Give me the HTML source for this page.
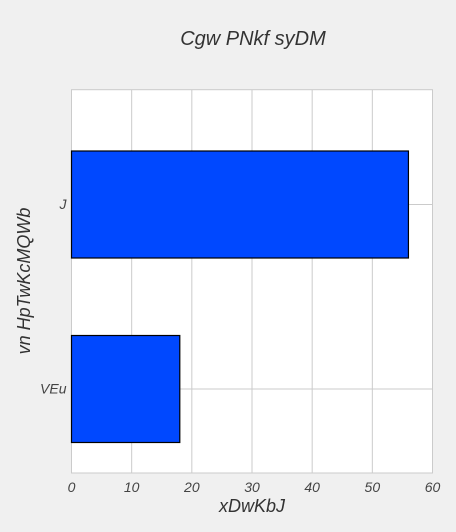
<!DOCTYPE html>
<html><head><meta charset="utf-8"><style>
body{margin:0;background:#f0f0f0;}
svg{display:block;font-family:"Liberation Sans",sans-serif;font-style:italic;}
</style></head><body>
<svg id="c" width="456" height="532">
<rect x="0" y="0" width="456" height="532" fill="#f0f0f0"/>
<text x="253" y="45" font-size="20" fill="#333" text-anchor="middle">Cgw PNkf syDM</text>
<text x="252" y="512" font-size="18" fill="#333" text-anchor="middle">xDwKbJ</text>
<text transform="translate(30,281) rotate(-90)" font-size="18" fill="#333" text-anchor="middle">vn HpTwKcMQWb</text>
</svg>
<script>
const categories=["VEu","J"];
const values=[18,56];
const xTicks=[0,10,20,30,40,50,60];
const svg=document.getElementById('c');
const NS='http://www.w3.org/2000/svg';
const L=71.5,R=432.5,T=89.7,B=473;
const xs=v=>L+(v-0)/(60-0)*(R-L);
const yc=i=>389-i*184.5;
const bh=107;
function mk(t,a){const e=document.createElementNS(NS,t);for(const k in a)e.setAttribute(k,a[k]);svg.appendChild(e);return e;}
const bg=mk('rect',{x:L,y:T,width:R-L,height:B-T,fill:'#fff',stroke:'#cbcbcb','stroke-width':1});


xTicks.forEach(t=>{
 const g=mk('line',{x1:xs(t),x2:xs(t),y1:T,y2:B,stroke:'#cbcbcb','stroke-width':1});
 
 
 const tx=mk('text',{x:xs(t),y:B+19,'font-size':14,fill:'#444','text-anchor':'middle'});
 tx.textContent=t;
 
 
});
categories.forEach((c,i)=>{
 const g=mk('line',{x1:L,x2:R,y1:yc(i),y2:yc(i),stroke:'#cbcbcb','stroke-width':1});
 
 
 const tx=mk('text',{x:L-5,y:yc(i)+4.5,'font-size':14,fill:'#444','text-anchor':'end'});
 tx.textContent=c;
 
 
});
categories.forEach((c,i)=>{
 const r=mk('rect',{x:xs(0),y:yc(i)-bh/2,width:xs(values[i])-xs(0),height:bh,fill:'#0048ff',stroke:'#000','stroke-width':1.2});
 
 
});
</script>
</body></html>
